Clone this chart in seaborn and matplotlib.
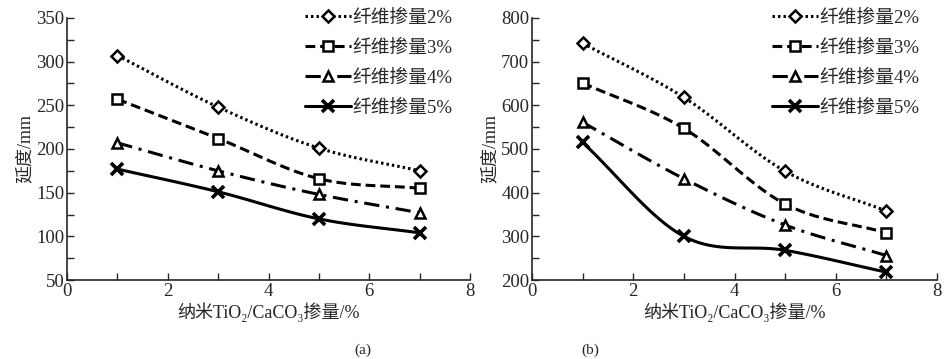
import numpy as np
import pandas as pd
import seaborn as sns
import matplotlib.pyplot as plt
from matplotlib.lines import Line2D
from matplotlib.ticker import MultipleLocator

# data
x_vals = [1, 3, 5, 7]
series_names = ['纤维掺量2%', '纤维掺量3%', '纤维掺量4%', '纤维掺量5%']
a_2 = [307, 248, 201, 175]
a_3 = [257, 212, 166, 155]
a_4 = [207, 175, 148, 127]
a_5 = [177, 151, 120, 104]
b_2 = [742, 618, 449, 358]
b_3 = [651, 547, 374, 308]
b_4 = [561, 432, 326, 256]
b_5 = [515, 300, 268, 218]
panel_labels = ['(a)', '(b)']
y_label = '延度/mm'
x_label = '纳米TiO₂/CaCO₃掺量/%'

sns.set_style('ticks')
plt.rcParams['font.family'] = ['Liberation Serif', 'Noto Sans CJK SC', 'DejaVu Serif']
plt.rcParams['axes.unicode_minus'] = False

styles = [
    dict(ls=(0, (0.8, 1.0)), marker='D', ms=6),
    dict(ls=(0, (3.2, 1.6)), marker='s', ms=7.5),
    dict(ls=(0, (5, 2.2, 1, 2.2)), marker='^', ms=7.5),
    dict(ls='-', marker='x', ms=8),
]


def smooth(x, y, n=40):
    # cardinal (Catmull-Rom) curve through the points, for drawing only
    x = np.asarray(x, float)
    y = np.asarray(y, float)
    m = np.gradient(y, x)
    xs, ys = [], []
    for i in range(len(x) - 1):
        h = x[i + 1] - x[i]
        t = np.linspace(0, 1, n)
        h00 = 2 * t**3 - 3 * t**2 + 1
        h10 = t**3 - 2 * t**2 + t
        h01 = -2 * t**3 + 3 * t**2
        h11 = t**3 - t**2
        xs.append(x[i] + t * h)
        ys.append(h00 * y[i] + h10 * h * m[i] + h01 * y[i + 1] + h11 * h * m[i + 1])
    return np.concatenate(xs), np.concatenate(ys)


def draw_panel(ax, series, ylim, ystep):
    for vals, st in zip(series, styles):
        xs, ys = smooth(x_vals, vals)
        sns.lineplot(x=xs, y=ys, ax=ax, color='black', lw=2.2, linestyle=st['ls'],
                     sort=False, estimator=None)
        ax.plot(x_vals, vals, linestyle='none', marker=st['marker'], ms=st['ms'],
                mfc='white', mec='black', mew=1.8 if st['marker'] != 'x' else 2.6)
    ax.set_xlim(0, 8)
    ax.set_ylim(*ylim)
    ax.xaxis.set_major_locator(MultipleLocator(2))
    ax.xaxis.set_minor_locator(MultipleLocator(1))
    ax.yaxis.set_major_locator(MultipleLocator(ystep))
    ax.yaxis.set_minor_locator(MultipleLocator(ystep / 2))
    ax.tick_params(which='both', direction='in', length=5, width=1, labelsize=13.5, pad=2)
    for s in ['left', 'bottom']:
        ax.spines[s].set_linewidth(1.2)
    sns.despine(ax=ax)
    ax.set_ylabel(y_label, fontsize=13, labelpad=2)
    ax.set_xlabel(x_label, fontsize=13, labelpad=2)
    handles = [Line2D([], [], color='black', lw=2.2, linestyle=st['ls'], marker=st['marker'],
                      ms=st['ms'], mfc='white', mec='black',
                      mew=1.8 if st['marker'] != 'x' else 2.6) for st in styles]
    ax.legend(handles, series_names, loc='upper right', bbox_to_anchor=(0.975, 1.06),
              frameon=False, fontsize=13.5, handlelength=2.45, handletextpad=0.1,
              labelspacing=0.68, borderaxespad=0)


fig = plt.figure(figsize=(9.45, 3.59), dpi=100)
ax1 = fig.add_axes([0.0709, 0.22, 0.4265, 0.73])
ax2 = fig.add_axes([0.563, 0.22, 0.4286, 0.73])
draw_panel(ax1, [a_2, a_3, a_4, a_5], (50, 350), 50)
draw_panel(ax2, [b_2, b_3, b_4, b_5], (200, 800), 100)
fig.text(363 / 945, 1 - 350 / 359, panel_labels[0], fontsize=11, ha='center', va='center')
fig.text(590 / 945, 1 - 350 / 359, panel_labels[1], fontsize=11, ha='center', va='center')

fig.savefig('out.png', dpi=100)
